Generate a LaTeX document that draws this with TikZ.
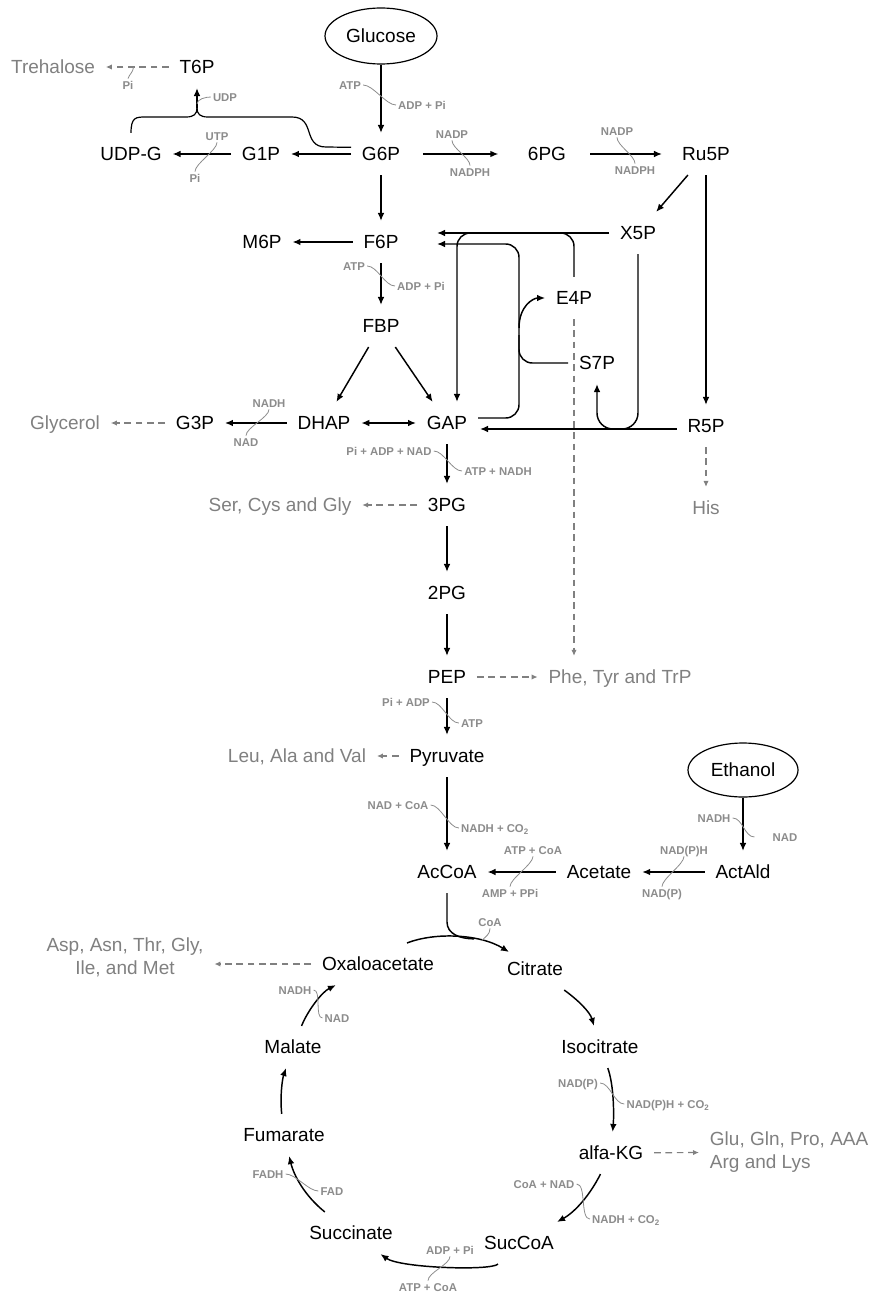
\documentclass[tikz,border=0pt]{standalone}
\usepackage{fontspec}
\setmainfont{Liberation Sans}
\usepackage{tikz}
\usetikzlibrary{shapes.geometric, arrows.meta, calc}
\definecolor{sidegray}{RGB}{128,128,128}
\definecolor{cofgray}{RGB}{140,140,140}

\begin{document}
\begin{tikzpicture}[x=0.75pt, y=-0.75pt,
  met/.style={font=\fontsize{14.25}{17}\selectfont, text height=10.2pt, text depth=0pt, inner xsep=8pt, inner ysep=10.5pt},
  side/.style={met, text=sidegray},
  sidetwo/.style={font=\fontsize{14.25}{17.3}\selectfont, text=sidegray, inner xsep=8pt},
  source/.style={draw, ellipse, line width=0.9pt, font=\fontsize{14.25}{17}\selectfont, inner sep=0pt},
  cof/.style={font=\fontsize{8.5}{10}\selectfont\bfseries, text=cofgray, text height=6.2pt, text depth=0pt, inner sep=1.5pt},
  rxn/.style={line width=1.1pt, -{Latex[length=6pt,width=5pt]}},
  rev/.style={line width=1.1pt, {Latex[length=6pt,width=5pt]}-{Latex[length=6pt,width=5pt]}},
  link/.style={line width=1.1pt},
  flux/.style={draw=sidegray, line width=0.9pt, dash pattern=on 5pt off 3.5pt, -{Latex[length=4.5pt,width=4pt]}},
  tick/.style={draw=cofgray, line width=0.6pt}]

  \useasboundingbox (0,0) rectangle (875,1295);

  % Upper glycolysis and trehalose
  \node[source, minimum width=84pt, minimum height=42pt] (glc) at (381,36) {Glucose};
  \node[met] (g6p) at (381,154) {G6P};
  \node[met] (g1p) at (261,154) {G1P};
  \node[met] (udpg) at (131,154) {UDP-G};
  \node[met] (t6p) at (197,67) {T6P};
  \node[side] (treh) at (53,67) {Trehalose};
  \node[met] (f6p) at (381,242) {F6P};
  \node[met] (m6p) at (262,242) {M6P};
  \node[met] (fbp) at (381,326) {FBP};
  \node[met] (dhap) at (324,423) {DHAP};
  \node[met] (gap) at (447,423) {GAP};
  \node[met] (g3p) at (195,423) {G3P};
  \node[side] (glyc) at (65,423) {Glycerol};

  % Pentose phosphate
  \node[met] (pg6) at (547,154) {6PG};
  \node[met] (ru5p) at (706,154) {Ru5P};
  \node[met] (x5p) at (638,233) {X5P};
  \node[met] (e4p) at (574,298) {E4P};
  \node[met] (s7p) at (597,363) {S7P};
  \node[met] (r5p) at (706,426) {R5P};
  \node[side] (his) at (706,508) {His};

  % Lower glycolysis
  \node[met] (pg3) at (447,505) {3PG};
  \node[side] (scg) at (280,505) {Ser, Cys and Gly};
  \node[met] (pg2) at (447,593) {2PG};
  \node[met] (pep) at (447,677) {PEP};
  \node[side] (aro) at (620,677) {Phe, Tyr and TrP};
  \node[met] (pyr) at (447,756) {Pyruvate};
  \node[side] (lav) at (297,756) {Leu, Ala and Val};

  % Ethanol branch
  \node[source, minimum width=82.5pt, minimum height=40.5pt] (etoh) at (743,770) {Ethanol};
  \node[met] (acald) at (743,872) {ActAld};
  \node[met] (ac) at (599,872) {Acetate};
  \node[met] (accoa) at (447,872) {AcCoA};

  % TCA cycle
  \node[met] (oaa) at (378,964) {Oxaloacetate};
  \node[sidetwo, align=center] (asp) at (125,957) {Asp, Asn, Thr, Gly,\\Ile, and Met};
  \node[met] (cit) at (535,969) {Citrate};
  \node[met] (icit) at (600,1047) {Isocitrate};
  \node[met] (mal) at (293,1047) {Malate};
  \node[met] (akg) at (611,1153) {alfa-KG};
  \node[sidetwo, align=left, anchor=west] (glu) at (699,1152) {Glu, Gln, Pro, AAA\\Arg and Lys};
  \node[met] (fum) at (284,1135) {Fumarate};
  \node[met] (suc) at (351,1233) {Succinate};
  \node[met] (succoa) at (519,1243) {SucCoA};

  % Cofactors
  \node[cof] (hkin) at (350,85) {ATP};
  \node[cof] (hkout) at (422,105) {ADP + Pi};
  \node[cof] (tppo) at (128,85) {Pi};
  \node[cof] (udpo) at (225,97) {UDP};
  \node[cof] (ugpin) at (217,136) {UTP};
  \node[cof] (ugpout) at (195,178) {Pi};
  \node[cof] (g6pdin) at (452,134) {NADP};
  \node[cof] (g6pdout) at (470,172) {NADPH};
  \node[cof] (pgdin) at (617,131) {NADP};
  \node[cof] (pgdout) at (635,170) {NADPH};
  \node[cof] (pfkin) at (354,266) {ATP};
  \node[cof] (pfkout) at (421,286) {ADP + Pi};
  \node[cof] (gpdin) at (269,403) {NADH};
  \node[cof] (gpdout) at (246,442) {NAD};
  \node[cof] (gapdin) at (389,451) {Pi + ADP + NAD};
  \node[cof] (gapdout) at (498,471) {ATP + NADH};
  \node[cof] (pkin) at (406,702) {Pi + ADP};
  \node[cof] (pkout) at (472,723) {ATP};
  \node[cof] (pdhin) at (398,805) {NAD + CoA};
  \node[cof] (pdhout) at (495,828) {NADH + CO\textsubscript{2}};
  \node[cof] (adhin) at (714,818) {NADH};
  \node[cof] (adhout) at (785,837) {NAD};
  \node[cof] (aldin) at (684,850) {NAD(P)H};
  \node[cof] (aldout) at (662,893) {NAD(P)};
  \node[cof] (acsin) at (533,850) {ATP + CoA};
  \node[cof] (acsout) at (510,893) {AMP + PPi};
  \node[cof] (coao) at (490,922) {CoA};
  \node[cof] (mdhin) at (295,990) {NADH};
  \node[cof] (mdhout) at (337,1018) {NAD};
  \node[cof] (idhin) at (578,1083) {NAD(P)};
  \node[cof] (idhout) at (668,1104) {NAD(P)H + CO\textsubscript{2}};
  \node[cof] (kgdin) at (544,1184) {CoA + NAD};
  \node[cof] (kgdout) at (626,1219) {NADH + CO\textsubscript{2}};
  \node[cof] (scsin) at (450,1250) {ADP + Pi};
  \node[cof] (scsout) at (428,1287) {ATP + CoA};
  \node[cof] (sdhin) at (268,1174) {FADH};
  \node[cof] (sdhout) at (332,1191) {FAD};

  % Junction points
  \coordinate (cusp) at (197,108);
  \coordinate (tkA) at (437,233);
  \coordinate (tkB) at (437,244);
  \coordinate (tkC) at (482,233);
  \coordinate (tkD) at (457,233);
  \coordinate (tkE) at (548,233);
  \coordinate (tkF) at (480,429);
  \coordinate (taA) at (519,418);
  \coordinate (taB) at (519,244);
  \coordinate (taC) at (519,363);
  \coordinate (taD) at (519,335);
  \coordinate (taE) at (519,328);
  \coordinate (oaaout) at (407,943);
  \coordinate (citin) at (509,952);
  \coordinate (acbend) at (447,922);

  % Glycolysis arrows
  \draw[rxn] (glc) -- (g6p);
  \draw[rxn] (g6p) -- (g1p);
  \draw[rxn] (g1p) -- (udpg);
  \draw[rxn] (g6p) -- (f6p);
  \draw[rxn] (f6p) -- (m6p);
  \draw[rxn] (f6p) -- (fbp);
  \draw[rxn] (fbp) -- (dhap);
  \draw[rxn] (fbp) -- (gap);
  \draw[rev] (dhap) -- (gap);
  \draw[rxn] (dhap) -- (g3p);
  \draw[rxn] (gap) -- (pg3);
  \draw[rxn] (pg3) -- (pg2);
  \draw[rxn] (pg2) -- (pep);
  \draw[rxn] (pep) -- (pyr);
  \draw[rxn] (pyr) -- (accoa);
  \draw[rxn] (etoh) -- (acald);
  \draw[rxn] (acald) -- (ac);
  \draw[rxn] (ac) -- (accoa);

  % Trehalose
  \draw[link, line width=0.9pt] (udpg.north) .. controls +(0,-16) and +(-10,0) .. (146,117) -- (186,117) .. controls (194,117) and (197,114) .. (cusp);
  \draw[link, line width=0.9pt] (cusp) .. controls (197,114) and (200,117) .. (208,117) -- (292,117) .. controls (316,117) and (302,147) .. (326,147) -- ([yshift=5pt]g6p.west);
  \draw[rxn] (cusp) -- coordinate[pos=.2] (ugm) (t6p);
  \draw[flux] (t6p) -- coordinate[pos=.56] (tpsm) (treh);

  % Pentose phosphate arrows
  \draw[rxn, shorten <=9pt, shorten >=14pt] (g6p) -- (pg6);
  \draw[rxn, shorten <=10pt, shorten >=7pt] (pg6) -- (ru5p);
  \draw[rxn] (ru5p) -- (x5p);
  \draw[rxn] (ru5p) -- (r5p);
  \draw[rxn] (x5p) -- (tkA);
  \draw[rxn, rounded corners=10pt] (tkC) -- (tkD) -- (tkD |- gap.north);
  \draw[link, rounded corners=10pt] (e4p) -- (e4p |- tkE) -- (tkE);
  \draw[rxn, rounded corners=10pt] (gap.east |- taA) -- (taA) -- (taB) -- (tkB);
  \draw[link, rounded corners=10pt] (s7p) -- (taC) -- (taD);
  \draw[rxn] (taE) .. controls +(0,-22) and +(-12,0) .. (e4p.west);
  \draw[rxn] (r5p.west |- tkF) -- (tkF);
  \draw[rxn, rounded corners=12pt] (x5p) -- (x5p |- tkF) -- (s7p |- tkF) -- (s7p);

  % Side products
  \draw[flux] (g3p) -- (glyc);
  \draw[flux] (pg3) -- (scg);
  \draw[flux] (r5p) -- (his);
  \draw[flux] (e4p) -- (e4p |- aro.north);
  \draw[flux] (pep) -- (aro);
  \draw[flux] (pyr) -- (lav);
  \draw[flux] (oaa) -- (oaa -| asp.east);
  \draw[flux] (akg) -- (glu);

  % TCA arrows
  \draw[rxn] (oaaout) .. controls (435,932) and (480,934) .. coordinate[pos=.65] (csjoin) coordinate[pos=.72] (csm) (citin);
  \draw[link] (accoa) -- (acbend) .. controls +(0,12) and +(-14,0) .. (csjoin);
  \draw[rxn] (cit) .. controls +(43,31) and +(-10,-35) .. (icit);
  \draw[rxn] (icit) .. controls +(14,38) and +(3,-38) .. (akg);
  \draw[rxn] (akg) .. controls +(-21,42) and +(56,-31) .. (succoa);
  \draw[rxn] (succoa) .. controls +(-28,28) and +(49,35) .. (suc);
  \draw[rxn] (suc) .. controls +(-46,-37) and +(10,41) .. (fum);
  \draw[rxn] (fum) .. controls +(-4,-37) and +(-11,33) .. (mal);
  \draw[rxn] (mal) .. controls +(15,-37) and +(-56,28) .. (oaa);

  % Cofactor ticks
  \draw[tick] (hkin.east) .. controls +(10,0) and +(-10,0) .. (hkout.west);
  \draw[tick] (tpsm) .. controls +(0,5) and +(1,-4) .. (tppo.north);
  \draw[tick] (ugm) .. controls +(0,-5) and +(-5,0) .. (udpo.west);
  \draw[tick] (ugpin.south) .. controls +(0,8) and +(0,-8) .. (ugpout.north);
  \draw[tick] (g6pdin.south) .. controls +(0,8) and +(0,-8) .. (g6pdout.north);
  \draw[tick] (pgdin.south) .. controls +(0,8) and +(0,-8) .. (pgdout.north);
  \draw[tick] (pfkin.east) .. controls +(10,0) and +(-10,0) .. (pfkout.west);
  \draw[tick] (gpdin.south) .. controls +(0,8) and +(0,-8) .. (gpdout.north);
  \draw[tick] (gapdin.east) .. controls +(10,0) and +(-10,0) .. (gapdout.west);
  \draw[tick] (pkin.east) .. controls +(10,0) and +(-10,0) .. (pkout.west);
  \draw[tick] (pdhin.east) .. controls +(10,0) and +(-10,0) .. (pdhout.west);
  \draw[tick] (adhin.east) .. controls +(10,0) and +(-10,0) .. ([xshift=-12pt]adhout.west);
  \draw[tick] (aldin.south) .. controls +(0,8) and +(0,-8) .. (aldout.north);
  \draw[tick] (acsin.south) .. controls +(0,8) and +(0,-8) .. (acsout.north);
  \draw[tick] (coao.south) .. controls +(0,6) and +(4,-4) .. (csm);
  \draw[tick] (mdhin.east) .. controls +(8,0) and +(-8,0) .. (mdhout.west);
  \draw[tick] (idhin.east) .. controls +(10,0) and +(-10,0) .. (idhout.west);
  \draw[tick] (kgdin.east) .. controls +(10,0) and +(-10,0) .. (kgdout.west);
  \draw[tick] (scsin.south) .. controls +(0,8) and +(0,-8) .. (scsout.north);
  \draw[tick] (sdhin.east) .. controls +(10,0) and +(-10,0) .. (sdhout.west);
\end{tikzpicture}
\end{document}
